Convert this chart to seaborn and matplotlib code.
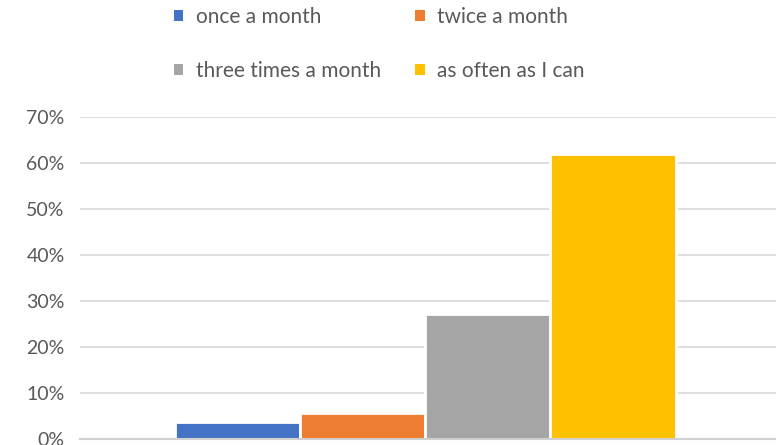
import pandas as pd
import seaborn as sns
import matplotlib.pyplot as plt
from matplotlib.patches import Patch
from matplotlib.ticker import PercentFormatter

# data
frequency = ["once a month", "twice a month", "three times a month", "as often as I can"]
share = [0.038, 0.056, 0.272, 0.62]
colors = ["#4472C4", "#ED7D31", "#A5A5A5", "#FFC000"]

df = pd.DataFrame({"group": [""] * len(frequency), "frequency": frequency, "share": share})

sns.set_style("white")
plt.rcParams["font.family"] = ["Lato", "DejaVu Sans"]

fig = plt.figure(figsize=(7.76, 4.45), dpi=100)
ax = fig.add_axes([80 / 776, 6 / 445, 696 / 776, 322 / 445])

sns.barplot(data=df, x="group", y="share", hue="frequency", hue_order=frequency,
            palette=colors, width=0.72, edgecolor="white", linewidth=2,
            saturation=1, ax=ax, legend=False)

ax.set_ylim(0, 0.7)
ax.set_xlim(-0.496, 0.504)
ax.yaxis.set_major_formatter(PercentFormatter(1.0, decimals=0))
ax.set_yticks([i / 10 for i in range(8)])
ax.grid(axis="y", color="#D9D9D9", linewidth=1.2)
ax.set_axisbelow(True)
ax.set_xlabel("")
ax.set_ylabel("")
ax.set_xticks([])
ax.tick_params(axis="y", labelsize=14, labelcolor="#595959", length=0, pad=11)
for s in ["top", "right", "left"]:
    ax.spines[s].set_visible(False)
ax.spines["bottom"].set_color("#D0D0D0")
ax.spines["bottom"].set_linewidth(1.5)

# legend in rows: matplotlib fills columns first, so reorder
order = [0, 2, 1, 3]
handles = [Patch(facecolor=colors[i], edgecolor="none") for i in order]
labels = [frequency[i] for i in order]
fig.legend(handles, labels, loc="upper left", bbox_to_anchor=(174 / 776, 0.985),
           ncol=2, frameon=False, fontsize=15, labelcolor="#595959",
           borderpad=0, borderaxespad=0,
           handlelength=0.45, handleheight=0.45, handletextpad=0.6,
           columnspacing=1.65, labelspacing=1.65)

fig.savefig("out.png", dpi=100)
